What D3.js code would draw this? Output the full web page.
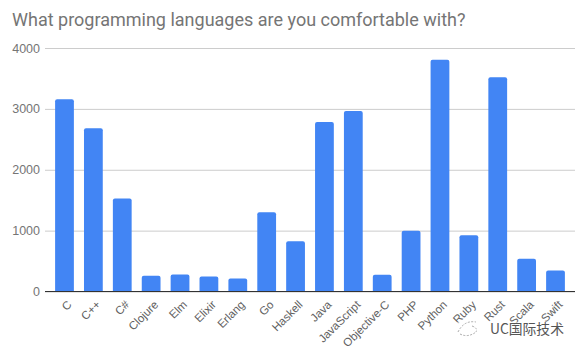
<!DOCTYPE html>
<html>
<head>
<meta charset="utf-8">
<script src="https://cdn.jsdelivr.net/npm/d3@7"></script>
<style>
  body { margin: 0; background: #fff; }
  svg { display: block; font-family: Roboto, "Noto Sans", sans-serif; }
</style>
</head>
<body>
<div id="chart"></div>
<script>
var languages = ["C", "C++", "C#", "Clojure", "Elm", "Elixir", "Erlang", "Go", "Haskell", "Java",
  "JavaScript", "Objective-C", "PHP", "Python", "Ruby", "Rust", "Scala", "Swift"];
var counts = [3160, 2680, 1527, 259, 280, 247, 214, 1302, 824, 2784,
  2965, 275, 1000, 3806, 923, 3520, 539, 346];
var yTicks = [0, 1000, 2000, 3000, 4000];

var width = 581, height = 353;
var margin = {top: 48, right: 6, bottom: 62, left: 45};

var svg = d3.select("#chart").append("svg")
    .attr("width", width)
    .attr("height", height);

svg.append("text")
    .attr("x", 12)
    .attr("y", 26)
    .attr("fill", "#757575")
    .style("font-size", "18px")
    .text("What programming languages are you comfortable with?");

var x = d3.scaleBand()
    .domain(languages)
    .range([margin.left, width - margin.right])
    .padding(0.35);

var y = d3.scaleLinear()
    .domain([0, 4000])
    .range([height - margin.bottom + 0.5, margin.top]);

// grid + y labels
var yAxis = d3.axisLeft(y)
    .tickValues(yTicks)
    .tickSize(-(width - margin.right - margin.left))
    .tickFormat(d3.format("d"));

svg.append("g")
    .attr("class", "axis axis--y")
    .attr("transform", "translate(" + margin.left + ",0)")
    .call(yAxis)
    .call(function(g) {
      g.select(".domain").remove();
      g.selectAll(".tick line").attr("stroke", "#cccccc");
      g.selectAll(".tick text").attr("fill", "#757575").style("font-size", "12.5px").attr("x", -5);
    });

svg.selectAll(".bar")
    .data(languages)
    .enter().append("path")
    .attr("class", "bar")
    .attr("fill", "#4285f4")
    .attr("d", function(d, i) {
      var x0 = x(d), w = x.bandwidth(), y0 = y(counts[i]), y1 = y(0), r = 2;
      return "M" + x0 + "," + y1 +
        "V" + (y0 + r) +
        "Q" + x0 + "," + y0 + " " + (x0 + r) + "," + y0 +
        "H" + (x0 + w - r) +
        "Q" + (x0 + w) + "," + y0 + " " + (x0 + w) + "," + (y0 + r) +
        "V" + y1 + "Z";
    });

// x axis
var xAxis = d3.axisBottom(x).tickSize(0).tickPadding(0);
svg.append("g")
    .attr("class", "axis axis--x")
    .attr("transform", "translate(0," + y(0) + ")")
    .call(xAxis)
    .call(function(g) {
      g.select(".domain").attr("stroke", "#333").attr("stroke-width", 1.2)
        .attr("d", "M" + margin.left + ",0H" + (width - margin.right));
      g.selectAll(".tick text")
        .attr("fill", "#616161")
        .style("font-size", "11.5px")
        .attr("text-anchor", "end")
        .attr("dy", "0.35em")
        .attr("transform", "translate(5,11) rotate(-45)");
    });

// watermark
var wm = svg.append("g").attr("transform", "translate(490,334)");
wm.append("rect").attr("x", -36).attr("y", -12).attr("width", 110).attr("height", 15)
    .attr("fill", "#fff").attr("opacity", 0.5);
wm.append("path")
    .attr("d", "M-32,-2 Q-26,-14 -14,-12 M-30,0 Q-22,4 -14,-2 M-18,-8 Q-12,-6 -14,-2")
    .attr("fill", "none").attr("stroke", "#aaa").attr("stroke-width", 1)
    .attr("stroke-dasharray", "2,1.5");
wm.append("text")
    .attr("x", 0)
    .attr("y", 0)
    .attr("fill", "#555")
    .style("font-family", "'Noto Sans CJK SC', sans-serif")
    .style("font-size", "13.8px")
    .text("UC国际技术");
</script>
</body>
</html>
